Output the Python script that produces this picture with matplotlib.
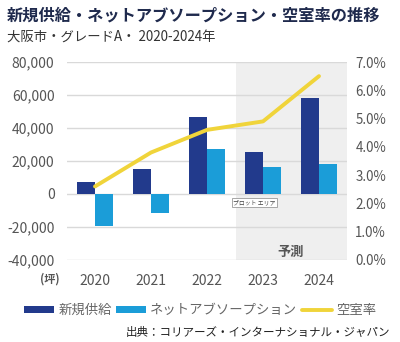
import matplotlib
matplotlib.use("Agg")
import matplotlib.pyplot as plt
import numpy as np
from matplotlib.ticker import FuncFormatter

plt.rcParams['font.family'] = ['Noto Sans CJK JP', 'DejaVu Sans']

years = ["2020", "2021", "2022", "2023", "2024"]
new_supply = [7500, 15000, 46500, 25600, 58000]
net_absorption = [-19200, -11700, 27100, 16500, 18200]
vacancy = [2.6, 3.8, 4.6, 4.9, 6.5]

title = "新規供給・ネットアブソープション・空室率の推移"
subtitle = "大阪市・グレードA・ 2020-2024年"
source = "出典：コリアーズ・インターナショナル・ジャパン"

c_supply = "#223a8c"
c_absorb = "#1b9dd8"
c_vac = "#f0d43a"

fig = plt.figure(figsize=(4.0, 3.42), dpi=100)
fig.patch.set_facecolor("white")
ax = fig.add_axes([0.1675, 0.2398, 0.70, 0.5789])
ax2 = ax.twinx()

x = np.arange(len(years))
w = 0.33

# forecast shading
ax.axvspan(2.52, 4.5, color="#efefef", zorder=0, lw=0)

ax.set_ylim(-40000, 80000)
ax.set_xlim(-0.5, 4.5)
ax.set_yticks(np.arange(-40000, 80001, 20000))
ax.yaxis.set_major_formatter(FuncFormatter(lambda v, p: f"{int(v):,}"))
ax.grid(axis="y", color="#d9d9d9", lw=1.0, zorder=1)
ax.set_axisbelow(True)

b1 = ax.bar(x - w / 2, new_supply, width=w, color=c_supply, zorder=3)
b2 = ax.bar(x + w / 2, net_absorption, width=w, color=c_absorb, zorder=3)

ax2.set_ylim(0, 7)
ax2.set_yticks(np.arange(0, 7.01, 1))
ax2.yaxis.set_major_formatter(FuncFormatter(lambda v, p: f"{v:.1f}%"))
(ln,) = ax2.plot(x, vacancy, color=c_vac, lw=2.8, solid_capstyle="round", zorder=4)

for a in (ax, ax2):
    for s in a.spines.values():
        s.set_visible(False)
    a.tick_params(length=0, labelsize=10, colors="#555555")
ax.tick_params(axis="y", pad=9)
ax2.tick_params(axis="y", pad=6, labelsize=9.6)
ax.set_xticks(x)
ax.set_xticklabels(years)
ax.tick_params(axis="x", pad=10)

ax.set_zorder(ax2.get_zorder() - 1)
ax2.patch.set_visible(False)
ax.patch.set_visible(False)

# forecast label
ax.text(3.5, -35000, "予測", ha="center", va="center", fontsize=9.5,
        fontweight="bold", color="#555555", zorder=5)

# plot-area tip
ax.text(2.85, -5000, "プロット エリア", ha="center", va="center", fontsize=4.2,
        color="#444444", zorder=6,
        bbox=dict(boxstyle="square,pad=0.25", fc="white", ec="#999999", lw=0.6))

fig.text(0.125, 1 - 279 / 342, "(坪)", ha="center", va="center", fontsize=8,
         fontweight="bold", color="#555555")

fig.text(0.018, 1 - 15 / 342, title, ha="left", va="center", fontsize=11.7,
         fontweight="bold", color="#1f2a4d")
fig.text(0.018, 1 - 38 / 342, subtitle, ha="left", va="center", fontsize=9.6,
         color="#333333")

handles = [b1, b2, ln]
labels = ["新規供給", "ネットアブソープション", "空室率"]
fig.legend(handles, labels, loc="center", bbox_to_anchor=(0.5, 1 - 310 / 342),
           ncol=3, frameon=False, fontsize=9.6, handlelength=2.3, handleheight=0.45,
           handletextpad=0.3, columnspacing=0.3, labelcolor="#666666")

fig.text(0.975, 1 - 332 / 342, source, ha="right", va="center", fontsize=8.3,
         color="#222222")

fig.savefig("out.png", dpi=100, facecolor="white")
